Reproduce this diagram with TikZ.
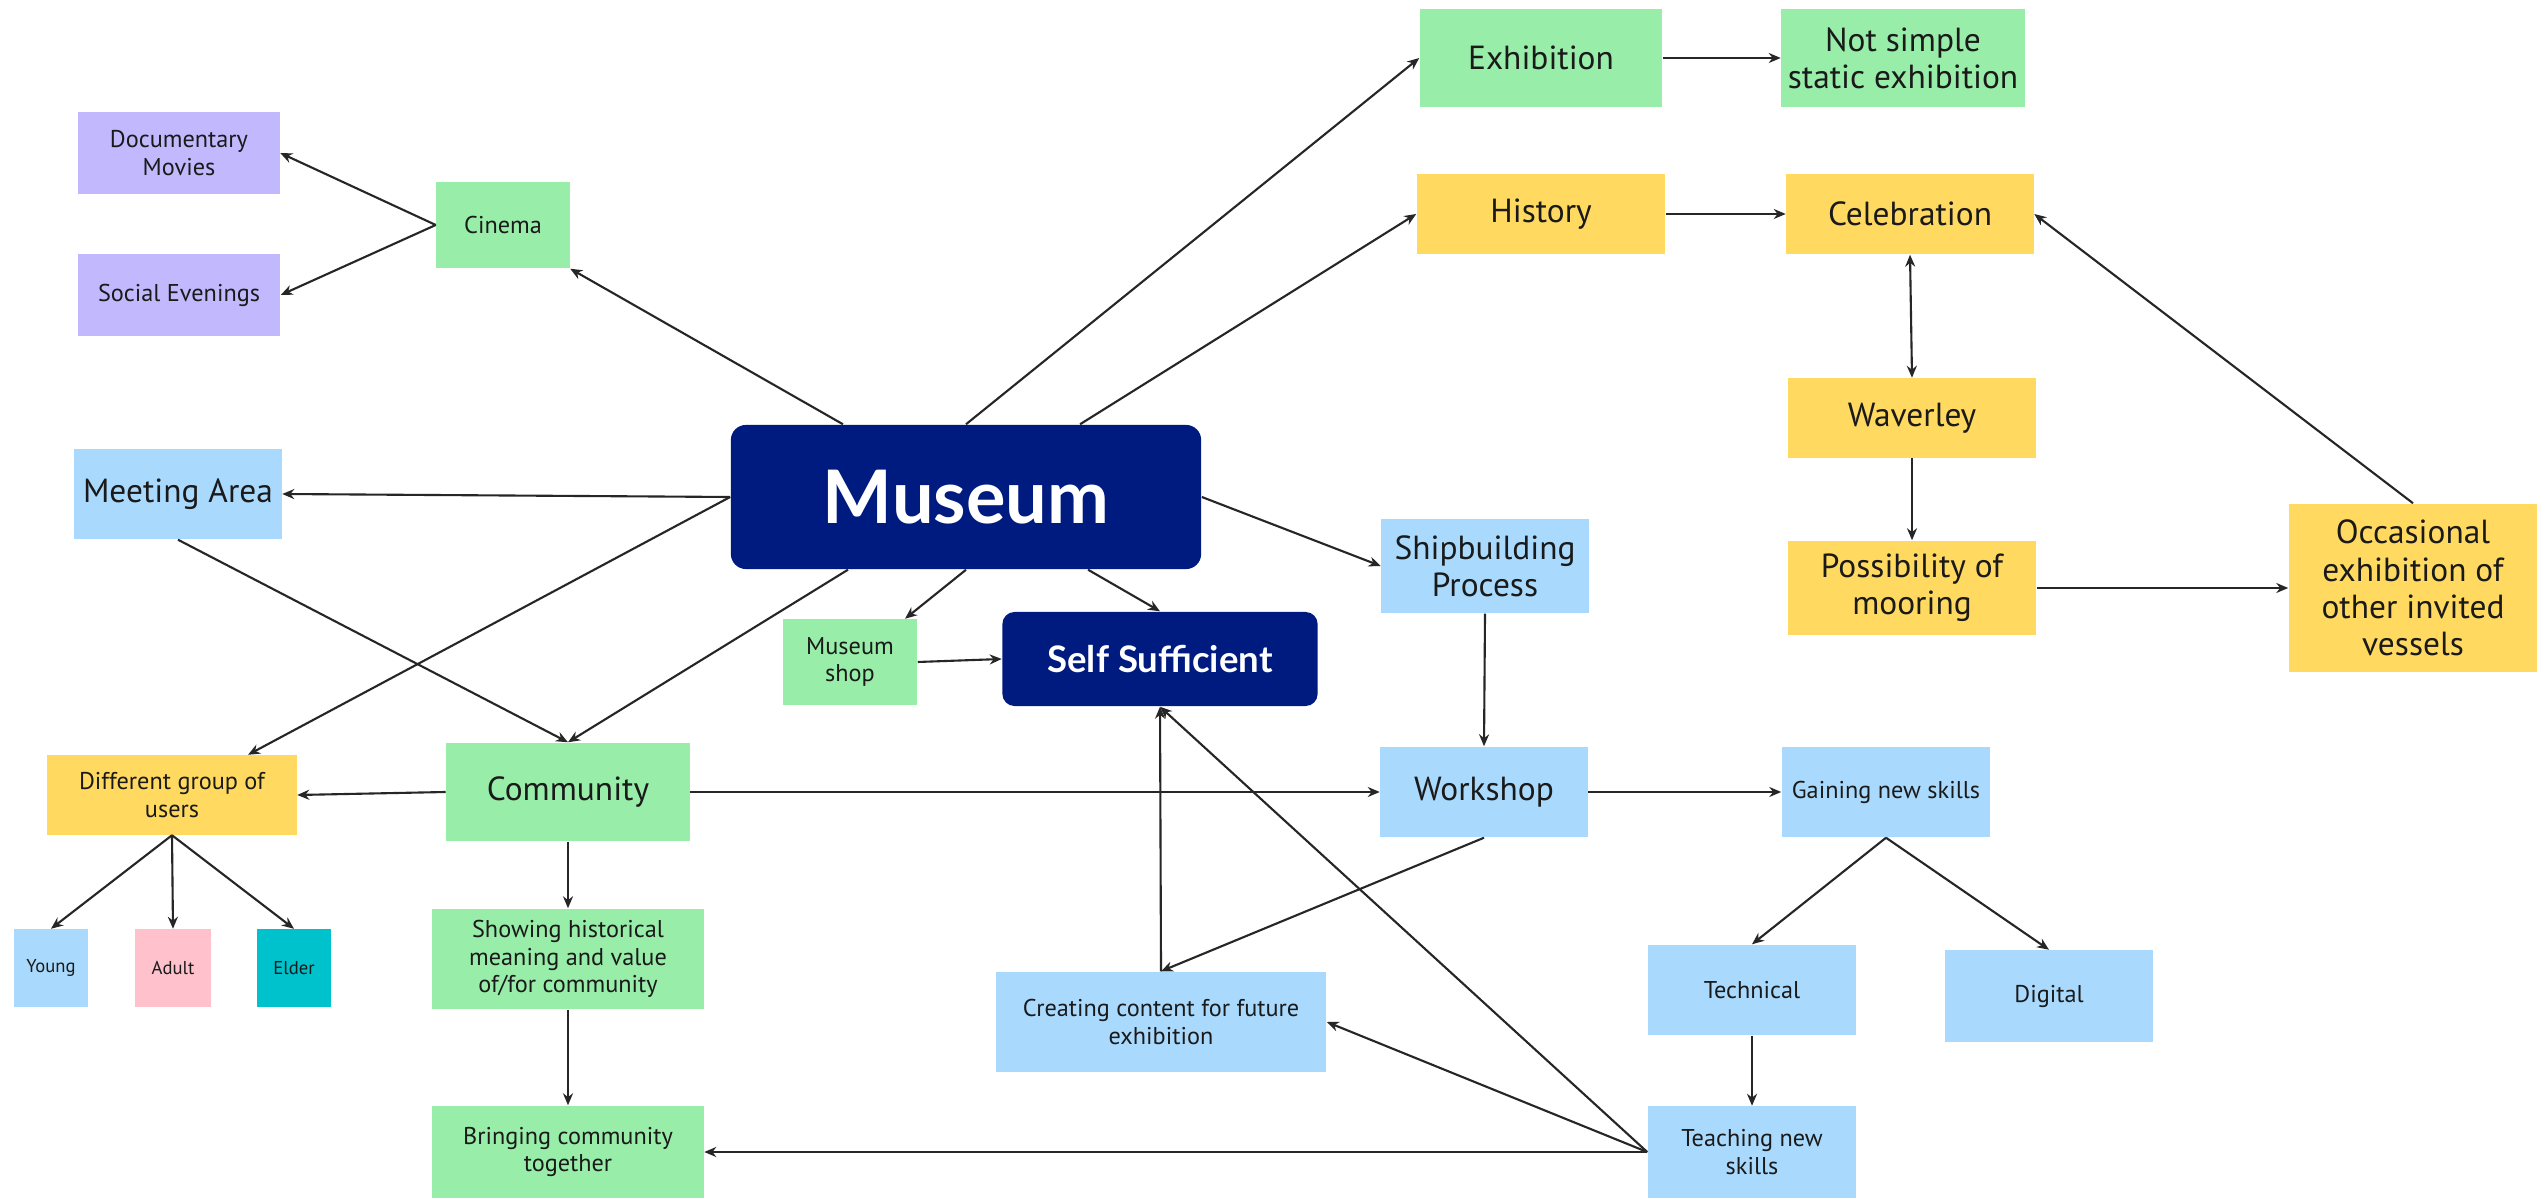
\documentclass[tikz,border=0pt]{standalone}
\usepackage{fontspec}
\setmainfont{PT Sans}
\newfontfamily\headfont{Lato}
\usetikzlibrary{arrows.meta}
\definecolor{cgreen}{HTML}{98EDA9}
\definecolor{cpurple}{HTML}{C2B8FE}
\definecolor{cblue}{HTML}{A9DAFD}
\definecolor{cyellow}{HTML}{FFD960}
\definecolor{cpink}{HTML}{FFC2CC}
\definecolor{cteal}{HTML}{00C2CC}
\definecolor{cnavy}{HTML}{001B80}
\definecolor{txt}{HTML}{1A1A1A}
\begin{document}
\begin{tikzpicture}[x=0.01cm,y=-0.01cm,
  box/.style={rectangle,inner sep=0pt,align=center,text=txt},
  big/.style={box,font=\fontsize{9.5}{10.6}\selectfont},
  med/.style={box,font=\fontsize{6.9}{7.8}\selectfont},
  sml/.style={box,font=\fontsize{5.3}{6}\selectfont},
  navy/.style={rectangle,fill=cnavy,text=white,align=center,inner sep=0pt},
  con/.style={-{Stealth[length=1.2mm,width=1mm]},line width=0.6pt,draw=black!85},
  dcon/.style={{Stealth[length=1.2mm,width=1mm]}-{Stealth[length=1.2mm,width=1mm]},line width=0.6pt,draw=black!85}]
\path[use as bounding box,fill=white] (0,0) rectangle (2537,1198);

% top right
\node[big,fill=cgreen,minimum width=2.42cm,minimum height=0.98cm] (exh) at (1541,58) {Exhibition};
\node[big,fill=cgreen,minimum width=2.43cm,minimum height=0.98cm] (nss) at (1903,58) {Not simple\\static exhibition};
\node[big,fill=cyellow,minimum width=2.48cm,minimum height=0.80cm] (his) at (1541,214) {History};
\node[big,fill=cyellow,minimum width=2.47cm,minimum height=0.80cm] (cel) at (1910,214) {Celebration};
\node[big,fill=cyellow,minimum width=2.48cm,minimum height=0.79cm] (wav) at (1912,418) {Waverley};
\node[big,fill=cyellow,minimum width=2.48cm,minimum height=0.94cm] (pos) at (1912,588) {Possibility of\\mooring};
\node[big,fill=cyellow,minimum width=2.48cm,minimum height=1.68cm] (occ) at (2413,588) {Occasional\\exhibition of\\other invited\\vessels};

% left
\node[med,fill=cpurple,minimum width=2.01cm,minimum height=0.81cm] (doc) at (179,153) {Documentary\\Movies};
\node[med,fill=cpurple,minimum width=2.02cm,minimum height=0.82cm] (soc) at (179,295) {Social Evenings};
\node[med,fill=cgreen,minimum width=1.33cm,minimum height=0.86cm] (cin) at (503,225) {Cinema};
\node[big,fill=cblue,minimum width=2.07cm,minimum height=0.90cm] (mee) at (178,494) {Meeting Area};

% centre
\node[navy,rounded corners=0.15cm,minimum width=4.70cm,minimum height=1.44cm,
  font=\headfont\bfseries\fontsize{21}{24}\selectfont] (mus) at (966,497) {Museum};
\node[med,fill=cgreen,minimum width=1.34cm,minimum height=0.85cm] (shop) at (850,662) {Museum\\shop};
\node[navy,rounded corners=0.12cm,minimum width=3.15cm,minimum height=0.94cm,
  font=\headfont\bfseries\fontsize{10.4}{12}\selectfont] (self) at (1160,659) {Self Sufficient};
\node[big,fill=cblue,minimum width=2.07cm,minimum height=0.94cm] (ship) at (1485,566) {Shipbuilding\\Process};

% lower left
\node[med,fill=cyellow,minimum width=2.49cm,minimum height=0.79cm] (dif) at (172,795) {Different group of\\users};
\node[big,fill=cgreen,minimum width=2.43cm,minimum height=0.98cm] (com) at (568,792) {Community};
\node[sml,fill=cblue,minimum width=0.74cm,minimum height=0.77cm] (you) at (51,968) {Young};
\node[sml,fill=cpink,minimum width=0.75cm,minimum height=0.77cm] (adu) at (173,968) {Adult};
\node[sml,fill=cteal,minimum width=0.74cm,minimum height=0.77cm] (eld) at (294,968) {Elder};
\node[med,fill=cgreen,minimum width=2.72cm,minimum height=1.00cm] (sho) at (568,959) {Showing historical\\meaning and value\\of/for community};
\node[med,fill=cgreen,minimum width=2.71cm,minimum height=0.92cm] (bri) at (568,1152) {Bringing community\\together};

% lower right
\node[big,fill=cblue,minimum width=2.07cm,minimum height=0.90cm] (wor) at (1484,792) {Workshop};
\node[med,fill=cblue,minimum width=2.08cm,minimum height=0.90cm] (gai) at (1886,792) {Gaining new skills};
\node[med,fill=cblue,minimum width=3.30cm,minimum height=1.00cm] (cre) at (1161,1022) {Creating content for future\\exhibition};
\node[med,fill=cblue,minimum width=2.08cm,minimum height=0.90cm] (tec) at (1752,990) {Technical};
\node[med,fill=cblue,minimum width=2.07cm,minimum height=0.91cm] (dig) at (2049,996) {Digital};
\node[med,fill=cblue,minimum width=2.08cm,minimum height=0.91cm] (tea) at (1752,1152) {Teaching new\\skills};

% connectors from Museum
\draw[con] ([xshift=-1.23cm]mus.north) -- (cin.south east);
\draw[con] (mus.north) -- (exh.west);
\draw[con] ([xshift=1.14cm]mus.north) -- (his.west);
\draw[con] (mus.west) -- (mee.east);
\draw[con] (mus.west) -- ([xshift=0.76cm]dif.north);
\draw[con] ([xshift=-1.18cm]mus.south) -- (com.north);
\draw[con] (mus.south) -- ([xshift=0.55cm]shop.north);
\draw[con] ([xshift=1.22cm]mus.south) -- (self.north);
\draw[con] (mus.east) -- (ship.west);
\draw[con] (shop.east) -- (self.west);

% other connectors
\draw[con] (cin.west) -- (doc.east);
\draw[con] (cin.west) -- (soc.east);
\draw[con] (mee.south) -- (com.north);
\draw[con] (exh.east) -- (nss.west);
\draw[con] (his.east) -- (cel.west);
\draw[dcon] (cel.south) -- (wav.north);
\draw[con] (wav.south) -- (pos.north);
\draw[con] (pos.east) -- (occ.west);
\draw[con] (occ.north) -- (cel.east);
\draw[con] (com.west) -- (dif.east);
\draw[con] (com.east) -- (wor.west);
\draw[con] (dif.south) -- (you.north);
\draw[con] (dif.south) -- (adu.north);
\draw[con] (dif.south) -- (eld.north);
\draw[con] (com.south) -- (sho.north);
\draw[con] (sho.south) -- (bri.north);
\draw[con] (ship.south) -- (wor.north);
\draw[con] (wor.east) -- (gai.west);
\draw[con] (wor.south) -- (cre.north);
\draw[con] (cre.north) -- (self.south);
\draw[con] (tea.west) -- (self.south);
\draw[con] (tea.west) -- (cre.east);
\draw[con] (tea.west) -- (bri.east);
\draw[con] (tec.south) -- (tea.north);
\draw[con] (gai.south) -- (tec.north);
\draw[con] (gai.south) -- (dig.north);
\end{tikzpicture}
\end{document}
